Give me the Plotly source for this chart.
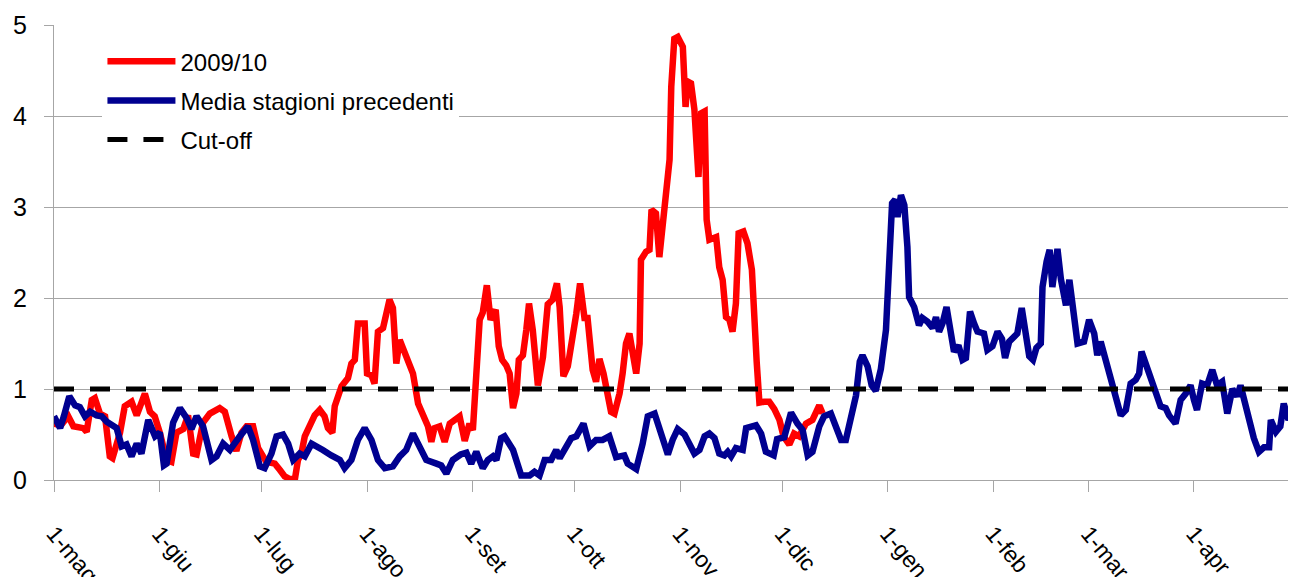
import plotly.graph_objects as go

# ---- data (day offset from 1 May, value) ----
red_days = [0, 2, 4.2, 5.7, 8.6, 9.6, 11.1, 12, 13.5, 15, 16.4, 17.2, 19.4, 20.8, 22.8, 24.3, 25.3, 26.7,
            28.2, 29.6, 31.1, 33.1, 34.5, 36, 38, 39.4, 40.9, 41.9, 43.8, 45.8, 48.7, 50.2, 52.2, 53.6,
            55.1, 56.6, 58.5, 60, 62.4, 64.9, 66.4, 67.8, 69.3, 70.8, 71.7, 72.7, 73.7, 75.2, 76.6, 78.1,
            79.5, 80.5, 81.8, 82.5, 83.5, 84.5, 86.4, 87.4, 88.4, 89.3, 90.3, 91.3, 92, 93.3, 94.2, 95.2,
            96.7, 97.6, 98.6, 99.6, 100.6, 101.6, 103, 104, 105.5, 107, 108.4, 109.9, 110.9, 111.8, 113.3,
            114.8, 116.3, 117.7, 119.2, 120.7, 122.1, 123.1, 124.1, 125.1, 126, 127.2, 128.3, 129.8, 130.7,
            131.7, 132.9, 133.9, 134.9, 135.9, 136.6, 137.8, 138.8, 139.6, 140.7, 142.2, 143.7, 145.1, 146.5,
            147.8, 148.6, 149.7, 151, 152.5, 153.5, 154.6, 155.9, 156.8, 158.3, 159.3, 160.3, 161.5, 162.7,
            163.7, 164.7, 166.2, 167.1, 168.1, 169.1, 170.1, 171.1, 172.1, 172.5, 174, 175, 175.6, 176.9,
            177.9, 178.9, 179.9, 180.9, 181.4, 182.3, 183.3, 184.8, 185.6, 186.2, 187.2, 188.2, 189.4, 190.2,
            191.2, 191.8, 192.6, 194.6, 195.5, 196.5, 197.5, 198.5, 199.4, 200.4, 201.2, 202.6, 203.8, 205.1,
            206.5, 207.3, 208.7, 210.2, 211.7, 213.2, 214.4, 216.1, 217.5, 219, 221, 222.9, 224.9, 225.9]
red_vals = [0.62, 0.60, 0.70, 0.59, 0.57, 0.53, 0.88, 0.90, 0.73, 0.70, 0.26, 0.24, 0.52, 0.81, 0.86, 0.71, 0.81, 0.95,
            0.75, 0.70, 0.52, 0.22, 0.20, 0.52, 0.56, 0.71, 0.29, 0.28, 0.63, 0.73, 0.79, 0.75, 0.48, 0.32,
            0.52, 0.59, 0.59, 0.35, 0.20, 0.18, 0.11, 0.04, 0.01, 0.01, 0.22, 0.29, 0.48, 0.62, 0.71, 0.77,
            0.70, 0.57, 0.52, 0.81, 0.92, 1.03, 1.12, 1.28, 1.32, 1.72, 1.72, 1.72, 1.17, 1.15, 1.06, 1.63,
            1.67, 1.79, 1.98, 1.89, 1.28, 1.54, 1.39, 1.28, 1.17, 0.84, 0.70, 0.59, 0.42, 0.57, 0.59,
            0.42, 0.62, 0.66, 0.70, 0.43, 0.62, 0.55, 1.22, 1.76, 1.84, 2.14, 1.76, 1.87, 1.47,
            1.32, 1.26, 1.17, 0.79, 0.95, 1.32, 1.37, 1.65, 1.94, 1.65, 1.04, 1.35, 1.93, 1.98,
            2.16, 1.90, 1.14, 1.25, 1.58, 1.83, 2.16, 1.78, 1.78, 1.21, 1.08, 1.33, 1.17, 0.92,
            0.75, 0.73, 0.95, 1.17, 1.50, 1.61, 1.32, 1.17, 1.50, 2.42, 2.51, 2.53, 2.97, 2.93,
            2.45, 2.86, 3.30, 3.52, 4.32, 4.85, 4.87, 4.76, 4.10, 4.38, 4.36, 4.07, 3.33, 4.03,
            4.05, 2.86, 2.64, 2.67, 2.34, 2.20, 1.79, 1.76, 1.63, 1.94, 2.71, 2.73, 2.60, 2.31,
            1.30, 0.85, 0.86, 0.86, 0.78, 0.66, 0.48, 0.39, 0.51, 0.48, 0.62, 0.66, 0.82, 0.73]

blue_days = [0, 1.8, 2.9, 4.5, 6.2, 7.6, 9.1, 10.6, 12.5, 14, 15.5, 18.4, 19.9, 21.3, 22.8, 24.3, 25.7, 27.7,
             29.7, 31.1, 32.3, 33.1, 35, 37, 39, 40.4, 41.9, 43.8, 46.3, 47.8, 49.7, 51.7, 54.6, 57, 58.5,
             60.5, 61.9, 63.9, 65.4, 67.3, 68.8, 70.3, 72.2, 73.7, 75.7, 77.6, 79, 81.5, 84, 85.4, 87.4,
             89.3, 91.3, 93.3, 95.2, 97.2, 99.6, 101.6, 103.5, 105.5, 107.4, 109.4, 112.4, 113.8, 115.3,
             117.2, 119.5, 121.2, 122.6, 124.1, 126, 127.5, 129, 130, 131.4, 132.4, 134.9, 136.3, 137.3,
             139.8, 141.2, 142.7, 144.2, 146.1, 147.6, 148.6, 150, 152, 153.5, 155.6, 157.4, 159.3, 161.2,
             163.2, 165.2, 167.6, 168.6, 171.1, 173, 174.5, 176.5, 178.4, 180.4, 181.8, 183.3, 185.3, 186.2,
             188.2, 189.7, 191.2, 192.6, 194.1, 195.5, 197, 198, 199, 200.4, 202.4, 203.4, 206.3, 207.8,
             209.2, 211.5, 212.5, 214.6, 216.6, 218.5, 220, 221.5, 222.9, 224.9, 226.3, 228.3, 229.8, 231.3,
             232.7, 234.2, 235.7, 236.8, 237.6, 239.1, 240.3, 241.5, 243, 244.5, 245.5, 246.3, 247.2, 247.9,
             248.9, 249.9, 250.8, 251.3, 252.8, 254.2, 255.2, 256.7, 258.2, 259.2, 260.1, 261.1, 262.3, 263.6,
             264.5, 265.8, 267, 268, 269.2, 270.4, 271.4, 273.3, 274.3, 275.8, 277.3, 278.6, 279.5, 280.7,
             282.1, 283.1, 284.4, 285.6, 286.6, 287.7, 288.7, 290, 290.5, 291.7, 292.6, 293.4, 294.2, 294.9,
             295.9, 297.4, 298.4, 299.4, 300.8, 302.7, 304.2, 305.7, 306.6, 307.6, 309.1, 310.5, 312, 313.5,
             315, 316.4, 317.9, 318.9, 319.6, 320.8, 322.3, 323.7, 325.2, 326.7, 327.7, 329.6, 331.1, 332.6,
             334, 335, 335.9, 337.4, 338.9, 340.4, 341.8, 343.3, 344.8, 346.3, 347.7, 348.7, 349.7, 351.2,
             352.6, 354.1, 355.6, 357.1, 357.6, 359.1, 360.4, 361.4, 362.8, 364.3]
blue_vals = [0.70, 0.57, 0.70, 0.92, 0.82, 0.80, 0.70, 0.75, 0.71, 0.70, 0.64, 0.57, 0.37, 0.39, 0.26, 0.40, 0.29, 0.66,
             0.48, 0.52, 0.16, 0.18, 0.63, 0.79, 0.68, 0.56, 0.70, 0.59, 0.22, 0.26, 0.40, 0.33, 0.48, 0.59, 0.44,
             0.15, 0.13, 0.29, 0.48, 0.50, 0.40, 0.22, 0.29, 0.26, 0.40, 0.35, 0.33, 0.27, 0.22, 0.13, 0.22,
             0.44, 0.57, 0.44, 0.22, 0.13, 0.15, 0.26, 0.33, 0.51, 0.37, 0.22, 0.18, 0.16, 0.07,
             0.22, 0.28, 0.30, 0.18, 0.31, 0.13, 0.22, 0.26, 0.22, 0.46, 0.48, 0.33, 0.15, 0.05,
             0.05, 0.09, 0.05, 0.22, 0.22, 0.33, 0.24, 0.33, 0.46, 0.48, 0.62, 0.37, 0.44, 0.44,
             0.48, 0.25, 0.27, 0.18, 0.12, 0.40, 0.70, 0.73, 0.53, 0.28, 0.44, 0.56, 0.50, 0.44,
             0.29, 0.33, 0.48, 0.51, 0.46, 0.29, 0.27, 0.31, 0.26, 0.35, 0.33, 0.57, 0.60, 0.51,
             0.31, 0.27, 0.45, 0.47, 0.74, 0.62, 0.55, 0.27, 0.31, 0.59, 0.70, 0.73, 0.59, 0.44,
             0.44, 0.73, 0.93, 1.30, 1.37, 1.25, 1.04, 0.98, 1.22, 1.65, 2.30, 3.04, 3.08, 2.89,
             3.13, 3.02, 2.56, 2.01, 1.90, 1.70, 1.78, 1.74, 1.67, 1.79, 1.63, 1.72, 1.90, 1.57,
             1.41, 1.48, 1.32, 1.34, 1.85, 1.72, 1.63, 1.61, 1.43, 1.47, 1.63, 1.55, 1.34, 1.52,
             1.57, 1.61, 1.89, 1.59, 1.36, 1.32, 1.45, 1.50, 2.12, 2.40, 2.53, 2.12, 2.40, 2.54,
             2.21, 1.92, 2.20, 1.85, 1.50, 1.52, 1.76, 1.61, 1.37, 1.52, 1.30, 1.10, 0.88, 0.71,
             0.77, 1.06, 1.10, 1.17, 1.41, 1.28, 1.10, 0.95, 0.81, 0.79, 0.71, 0.62, 0.88, 0.95,
             1.04, 0.88, 0.77, 1.06, 1.04, 1.21, 1.04, 1.08, 0.73, 1.00, 0.92, 1.04, 0.88, 0.66,
             0.46, 0.31, 0.36, 0.36, 0.66, 0.53, 0.59, 0.84, 0.66, 0.77]

cutoff_days = [0, 365]
cutoff_vals = [1, 1]

month_days = [0, 31, 61, 92, 123, 153, 184, 214, 245, 276, 304, 335]
month_labels = ["1-mag", "1-giu", "1-lug", "1-ago", "1-set", "1-ott", "1-nov", "1-dic",
                "1-gen", "1-feb", "1-mar", "1-apr"]

FONT = "Liberation Sans, Arial, sans-serif"
GRID = "#A6A6A6"

fig = go.Figure()
fig.add_trace(go.Scatter(x=red_days, y=red_vals, mode="lines", name="2009/10", legendgroup="a",
                         line=dict(color="#FF0000", width=6.5)))
fig.add_trace(go.Scatter(x=blue_days, y=blue_vals, mode="lines", name="Media stagioni precedenti",
                         legendgroup="b", line=dict(color="#000090", width=6.5)))
fig.add_trace(go.Scatter(x=cutoff_days, y=cutoff_vals, mode="lines", name="Cut-off", legendgroup="c",
                         line=dict(color="#000000", width=5, dash="20px,16px")))

# the page body adds an 8px offset; the figure is sized so the plot lands where the reference has it
fig.update_layout(
    width=1288, height=569,
    margin=dict(l=46, r=0, t=17, b=97, autoexpand=False),
    paper_bgcolor="white", plot_bgcolor="white",
    font=dict(family=FONT, color="#000000"),
    showlegend=True,
    legend=dict(x=0.039, y=0.969, xanchor="left", yanchor="top",
                bgcolor="white", font=dict(family=FONT, size=24),
                itemwidth=68, tracegroupgap=5),
    xaxis=dict(range=[0, 365], tickmode="array", tickvals=month_days, ticktext=month_labels,
               tickangle=50, tickfont=dict(family=FONT, size=23), automargin=False,
               showgrid=False, zeroline=False, showline=True, linecolor=GRID, linewidth=1,
               ticks="outside", ticklen=11, tickcolor=GRID, ticklabelstandoff=19),
    yaxis=dict(range=[0, 5], tickvals=[0, 1, 2, 3, 4, 5], ticktext=["0", "1", "2", "3", "4", "5"],
               tickfont=dict(family=FONT, size=25), automargin=False,
               showgrid=True, gridcolor=GRID, gridwidth=1, zeroline=False,
               showline=True, linecolor=GRID, linewidth=1,
               ticks="outside", ticklen=9, tickcolor=GRID, ticklabelstandoff=12),
)

fig.write_html("out.html")
